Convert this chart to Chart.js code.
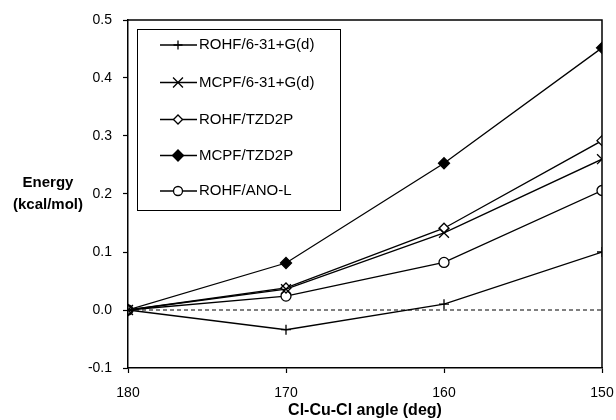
<!DOCTYPE html>
<html>
<head>
<meta charset="utf-8">
<script src="https://cdn.jsdelivr.net/npm/chart.js@4/dist/chart.umd.min.js"></script>
<style>
    html, body { margin: 0; padding: 0; background: #fff; }
    #wrap { width: 616px; height: 420px; position: relative; }
</style>
</head>
<body>
<div id="wrap"><canvas id="chart" width="616" height="420"></canvas></div>
<script>
// ── Data ──────────────────────────────────────────────────
var angles      = [180, 170, 160, 150];
var yTicks      = [-0.1, 0.0, 0.1, 0.2, 0.3, 0.4, 0.5];
var seriesNames = ['ROHF/6-31+G(d)', 'MCPF/6-31+G(d)', 'ROHF/TZD2P', 'MCPF/TZD2P', 'ROHF/ANO-L'];
var rohf631     = [0, -0.034, 0.010, 0.100];
var mcpf631     = [0, 0.036, 0.133, 0.260];
var rohfTzd2p   = [0, 0.038, 0.141, 0.292];
var mcpfTzd2p   = [0, 0.081, 0.253, 0.452];
var rohfAnoL    = [0, 0.024, 0.082, 0.206];
var zeroLine    = [0, 0];

(function () {
    'use strict';

    var FONT = '"Liberation Sans", Arial, sans-serif';

    function pts(values) {
        return values.map(function (v, i) { return { x: angles[i], y: v }; });
    }

    // marker per series (plot radius / legend radius)
    var styles = [
        { pointStyle: 'cross',    radius: 5,   legendRadius: 4.5, fill: '#000' },
        { pointStyle: 'crossRot', radius: 7,   legendRadius: 7,   fill: '#000' },
        { pointStyle: 'rectRot',  radius: 5,   legendRadius: 4.5, fill: '#fff' },
        { pointStyle: 'rectRot',  radius: 5.5, legendRadius: 5.5, fill: '#000' },
        { pointStyle: 'circle',   radius: 5,   legendRadius: 4.5, fill: '#fff' }
    ];
    var values = [rohf631, mcpf631, rohfTzd2p, mcpfTzd2p, rohfAnoL];

    var datasets = values.map(function (v, i) {
        return {
            label: seriesNames[i],
            data: pts(v),
            borderColor: '#000',
            borderWidth: 1.3,
            backgroundColor: styles[i].fill,
            pointStyle: styles[i].pointStyle,
            pointRadius: styles[i].radius,
            pointBorderColor: '#000',
            pointBackgroundColor: styles[i].fill,
            pointBorderWidth: 1.3,
            tension: 0
        };
    });

    // dashed zero reference
    datasets.unshift({
        label: '',
        data: [{ x: angles[0], y: zeroLine[0] }, { x: angles[angles.length - 1], y: zeroLine[1] }],
        borderColor: '#000',
        borderWidth: 1,
        borderDash: [4, 3],
        pointRadius: 0
    });

    // ── Frame + legend + y title ──────────────────────────────
    var extras = {
        id: 'extras',
        afterDraw: function (chart) {
            var ctx = chart.ctx;
            var a = chart.chartArea;
            ctx.save();
            ctx.strokeStyle = '#000';
            ctx.lineWidth = 1.5;
            ctx.beginPath();
            ctx.moveTo(a.left, a.top);
            ctx.lineTo(a.right, a.top);
            ctx.lineTo(a.right, a.bottom);
            ctx.stroke();

            // legend box
            var bx = 137, by = 29, bw = 203, bh = 181;
            ctx.fillStyle = '#fff';
            ctx.fillRect(bx, by, bw, bh);
            ctx.lineWidth = 1;
            ctx.strokeRect(bx + 0.5, by + 0.5, bw, bh);

            var rowY = [45, 82.5, 119.5, 155.5, 191];
            seriesNames.forEach(function (name, i) {
                var y = rowY[i];
                ctx.strokeStyle = '#000';
                ctx.lineWidth = 1.3;
                ctx.beginPath();
                ctx.moveTo(160, y);
                ctx.lineTo(197, y);
                ctx.stroke();
                ctx.fillStyle = styles[i].fill;
                Chart.helpers.drawPoint(ctx, {
                    pointStyle: styles[i].pointStyle,
                    radius: styles[i].legendRadius,
                    borderWidth: 1.3,
                    rotation: 0
                }, 178, y);
                ctx.fillStyle = '#000';
                ctx.font = '15px ' + FONT;
                ctx.textBaseline = 'middle';
                ctx.textAlign = 'left';
                ctx.fillText(name, 199, y);
            });

            // y title, horizontal
            ctx.font = 'bold 15px ' + FONT;
            ctx.textAlign = 'center';
            ctx.fillText('Energy', 48, 183);
            ctx.fillText('(kcal/mol)', 48, 205);
            ctx.restore();
        }
    };

    new Chart(document.getElementById('chart'), {
        type: 'line',
        data: { datasets: datasets },
        options: {
            responsive: false,
            animation: false,
            layout: { padding: { left: 0, right: 14, top: 20, bottom: 0 } },
            plugins: {
                legend: { display: false },
                tooltip: { enabled: false }
            },
            scales: {
                x: {
                    type: 'linear',
                    reverse: true,
                    min: angles[angles.length - 1],
                    max: angles[0],
                    afterBuildTicks: function (s) {
                        s.ticks = angles.map(function (v) { return { value: v }; });
                    },
                    afterFit: function (s) {
                        s.height = 52;
                        s.paddingLeft = 0;
                        s.paddingRight = 0;
                    },
                    grid: { drawOnChartArea: false, drawTicks: true, tickLength: 5, tickColor: '#000', tickWidth: 1.2 },
                    border: { color: '#000', width: 1.5 },
                    ticks: { color: '#000', padding: 12, maxRotation: 0, font: { family: FONT, size: 14 } },
                    title: {
                        display: true,
                        text: 'Cl-Cu-Cl angle (deg)',
                        color: '#000',
                        padding: { top: 0, bottom: 0 },
                        font: { family: FONT, size: 16, weight: 'bold' }
                    }
                },
                y: {
                    min: yTicks[0],
                    max: yTicks[yTicks.length - 1],
                    afterBuildTicks: function (s) {
                        s.ticks = yTicks.map(function (v) { return { value: v }; });
                    },
                    afterFit: function (s) {
                        s.width = 128;
                        s.paddingTop = 0;
                        s.paddingBottom = 0;
                    },
                    grid: { drawOnChartArea: false, drawTicks: true, tickLength: 5, tickColor: '#000', tickWidth: 1.2 },
                    border: { color: '#000', width: 1.5 },
                    ticks: {
                        color: '#000',
                        padding: 11,
                        font: { family: FONT, size: 14 },
                        callback: function (v) { return Number(v).toFixed(1); }
                    }
                }
            }
        },
        plugins: [extras]
    });
}());
</script>
</body>
</html>
